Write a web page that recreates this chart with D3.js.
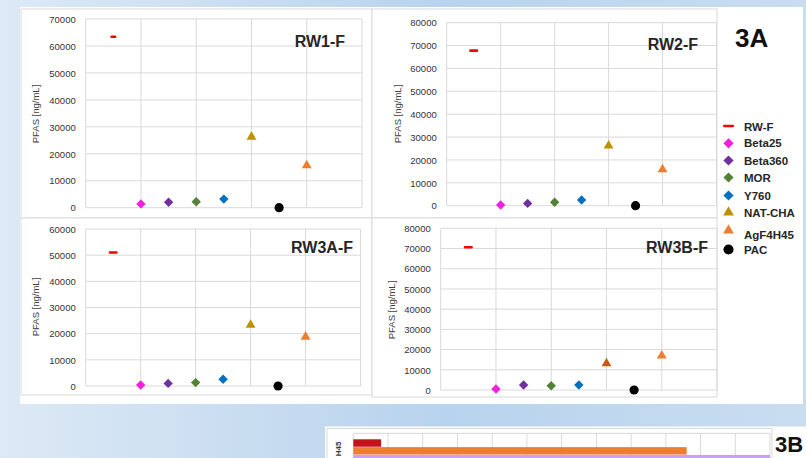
<!DOCTYPE html>
<html>
<head>
<meta charset="utf-8">
<script src="https://cdn.jsdelivr.net/npm/d3@7"></script>
<style>
  html, body { margin: 0; padding: 0; }
  body { width: 806px; height: 458px; overflow: hidden; }
  svg { display: block; font-family: "Liberation Sans", Arial, sans-serif; }
</style>
</head>
<body>
<svg id="fig" width="806" height="458"></svg>
<script>
// ---- data ----
var series = ["RW-F", "Beta25", "Beta360", "MOR", "Y760", "NAT-CHA", "AgF4H45", "PAC"];
var xSlot  = [1, 2, 3, 4, 5, 6, 8, 7];   // x position of each sample in the scatter
var rw1F  = [63400, 1400, 2000, 2200, 3200, 26300, 15700, 0];
var rw2F  = [67800, 300, 1000, 1500, 2500, 26200, 15900, 0];
var rw3aF = [51000, 400, 1000, 1300, 2600, 23300, 18800, 0];
var rw3bF = [70600, 500, 2500, 2100, 2500, 13200, 17000, 0];
var yMaxes = [70000, 80000, 60000, 80000];
var titles = ["RW1-F", "RW2-F", "RW3A-F", "RW3B-F"];

// 3B strip (only the top of it is in the frame), in grid units
var bar3bSeries = ["RW-F", "AgF4H45", "Beta25"];
var bar3bValues = [0.8, 9.6, 12];

var colors = ["#ff0000", "#f020dc", "#7030a0", "#548235", "#0070c0", "#bf9000", "#ed7d31", "#000000"];
var shapes = ["dash", "diamond", "diamond", "diamond", "diamond", "triangle", "triangle", "circle"];

// ---- layout ----
var panels = [
  { frame: [21, 9, 372, 218],  plot: [85.7, 19, 362, 207.7],  title: [345, 47],   ylab: [39, 114],  dash: 6 },
  { frame: [372, 9, 717, 218], plot: [446.7, 22.7, 716.5, 205.7], title: [698, 50], ylab: [401, 114], dash: 9 },
  { frame: [21, 218, 372, 395], plot: [85.7, 229, 360.5, 386], title: [353, 253], ylab: [39, 307], dash: 9 },
  { frame: [372, 218, 717, 397], plot: [440.7, 228.3, 717, 390], title: [708, 253], ylab: [395, 310], dash: 9,
    colorOverride: { 5: "#c55a11" } }
];
var dataSets = [rw1F, rw2F, rw3aF, rw3bF];

var svg = d3.select("#fig");
var defs = svg.append("defs");
var grad = defs.append("linearGradient").attr("id", "bg").attr("x1", "0").attr("x2", "1").attr("y1", "0").attr("y2", "0");
grad.append("stop").attr("offset", "0%").attr("stop-color", "#dde9f5");
grad.append("stop").attr("offset", "55%").attr("stop-color", "#b8d3ed");
grad.append("stop").attr("offset", "100%").attr("stop-color", "#c9ddf0");

svg.append("rect").attr("width", 806).attr("height", 458).attr("fill", "url(#bg)");
svg.append("rect").attr("x", 20).attr("y", 7).attr("width", 783).attr("height", 397).attr("fill", "#fff");

function marker(g, shape, size, color, dashW) {
  if (shape === "dash") {
    g.append("rect").attr("x", -dashW / 2).attr("y", -1.3).attr("width", dashW).attr("height", 2.6)
      .attr("rx", 1).attr("fill", color);
  } else if (shape === "diamond") {
    g.append("path").attr("d", d3.symbol(d3.symbolSquare, size)()).attr("transform", "rotate(45)").attr("fill", color);
  } else if (shape === "triangle") {
    g.append("path").attr("d", d3.symbol(d3.symbolTriangle, size)()).attr("fill", color);
  } else {
    g.append("path").attr("d", d3.symbol(d3.symbolCircle, size)()).attr("fill", color);
  }
}
var markSize = { diamond: 44, triangle: 42, circle: 66 };

panels.forEach(function (p, k) {
  var g = svg.append("g");
  g.append("rect").attr("x", p.frame[0]).attr("y", p.frame[1])
    .attr("width", p.frame[2] - p.frame[0]).attr("height", p.frame[3] - p.frame[1])
    .attr("fill", "#fff").attr("stroke", "#d9d9d9").attr("stroke-width", 1);

  var x = d3.scaleLinear().domain([0, 10]).range([p.plot[0], p.plot[2]]);
  var y = d3.scaleLinear().domain([0, yMaxes[k]]).range([p.plot[3], p.plot[1]]);
  var yTicks = d3.range(0, yMaxes[k] + 1, 10000);

  g.selectAll("line.h").data(yTicks).enter().append("line")
    .attr("x1", x(0)).attr("x2", x(10)).attr("y1", function (d) { return y(d); }).attr("y2", function (d) { return y(d); })
    .attr("stroke", "#d9d9d9").attr("stroke-width", 1);
  g.selectAll("line.v").data([0, 2, 4, 6, 8, 10]).enter().append("line")
    .attr("y1", y(0)).attr("y2", y(yMaxes[k])).attr("x1", function (d) { return x(d); }).attr("x2", function (d) { return x(d); })
    .attr("stroke", "#d9d9d9").attr("stroke-width", 1);

  var ax = g.append("g").attr("transform", "translate(" + x(0) + ",0)")
    .call(d3.axisLeft(y).tickValues(yTicks).tickSize(0).tickPadding(10).tickFormat(d3.format("d")));
  ax.select(".domain").remove();
  ax.selectAll("text").attr("fill", "#333").style("font-size", "9.5px").attr("dy", "0.34em");

  g.append("text").attr("transform", "translate(" + p.ylab[0] + "," + p.ylab[1] + ") rotate(-90)")
    .attr("text-anchor", "middle").attr("fill", "#404040").style("font-size", "9.5px").text("PFAS [ng/mL]");

  g.append("text").attr("x", p.title[0]).attr("y", p.title[1]).attr("text-anchor", "end")
    .attr("fill", "#262626").style("font-size", "16px").style("font-weight", "bold").text(titles[k]);

  dataSets[k].forEach(function (v, i) {
    var c = (p.colorOverride && p.colorOverride[i]) || colors[i];
    var m = g.append("g").attr("transform", "translate(" + x(xSlot[i]) + "," + y(v) + ")");
    marker(m, shapes[i], markSize[shapes[i]], c, p.dash);
  });
});

// legend
svg.append("text").attr("x", 735).attr("y", 47).attr("fill", "#111").style("font-size", "26px")
  .style("font-weight", "bold").text("3A");
var legY = [126, 143.3, 160.5, 177.5, 195.5, 212.5, 230.5, 249.5];
var legTextY = [127, 143.3, 160.5, 177.5, 195.5, 212.5, 234.5, 250];
series.forEach(function (s, i) {
  var m = svg.append("g").attr("transform", "translate(728.5," + legY[i] + ")");
  var sz = { diamond: 52, triangle: 50, circle: 80 };
  marker(m, shapes[i], sz[shapes[i]], colors[i], 11);
  svg.append("text").attr("x", 744).attr("y", legTextY[i]).attr("dy", "0.36em")
    .attr("fill", "#262626").style("font-size", "11.5px").style("font-weight", "bold").text(s);
});

// 3B strip at the bottom
svg.append("rect").attr("x", 325).attr("y", 426.5).attr("width", 481).attr("height", 40).attr("fill", "#fff");
svg.append("rect").attr("x", 327).attr("y", 428.5).attr("width", 445).attr("height", 40)
  .attr("fill", "#fff").attr("stroke", "#d9d9d9");
var bx = d3.scaleLinear().domain([0, 12]).range([353.3, 770]);
var by = d3.scaleBand().domain(bar3bSeries).range([439.3, 462.4]).paddingInner(0.05);
svg.append("line").attr("x1", bx(0)).attr("x2", bx(12)).attr("y1", 433.3).attr("y2", 433.3).attr("stroke", "#d9d9d9");
svg.selectAll("line.bv").data(d3.range(0, 13)).enter().append("line")
  .attr("x1", function (d) { return bx(d); }).attr("x2", function (d) { return bx(d); })
  .attr("y1", 433.3).attr("y2", 458).attr("stroke", "#d9d9d9");
var barColors = ["#c3141c", "#ed7d31", "#c9a0f2"];
svg.selectAll("rect.bar").data(bar3bValues).enter().append("rect")
  .attr("x", bx(0)).attr("y", function (d, i) { return by(bar3bSeries[i]); })
  .attr("width", function (d) { return bx(d) - bx(0); }).attr("height", by.bandwidth())
  .attr("fill", function (d, i) { return barColors[i]; });
// only the tail of the category label is visible in the crop
svg.append("text").attr("transform", "translate(341,441.5) rotate(-90)").attr("text-anchor", "end")
  .attr("fill", "#404040").style("font-size", "8px").style("font-weight", "bold").text("H45");
svg.append("text").attr("x", 775).attr("y", 452).attr("fill", "#111").style("font-size", "22px")
  .style("font-weight", "bold").text("3B");
</script>
</body>
</html>
